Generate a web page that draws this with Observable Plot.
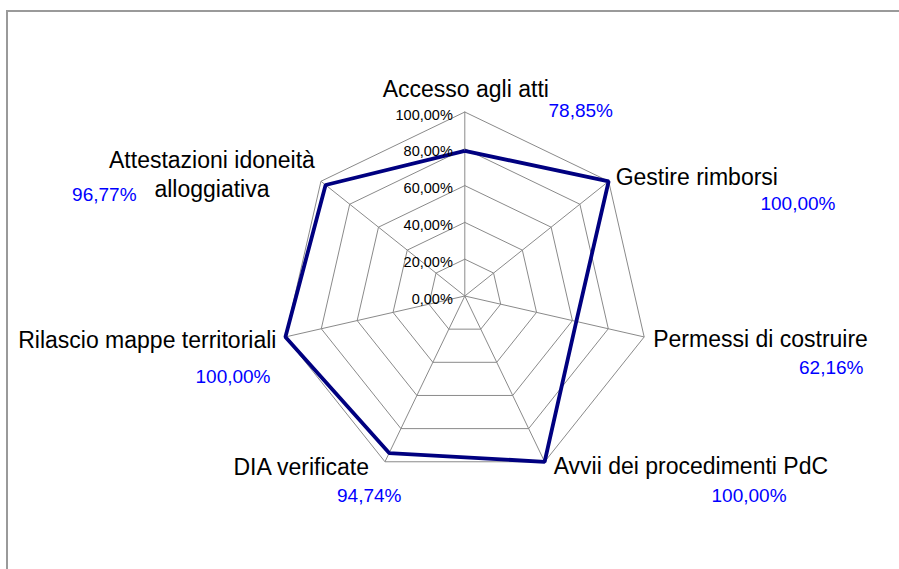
<!DOCTYPE html>
<html><head><meta charset="utf-8">
<script src="https://cdn.jsdelivr.net/npm/d3@7"></script>
<script src="https://cdn.jsdelivr.net/npm/@observablehq/plot@0.6"></script>
<style>
body{margin:0;background:#fff;}
#wrap{position:relative;width:899px;height:569px;overflow:hidden;background:#fff;}
#chart{position:absolute;left:0;top:0;}
#frame{position:absolute;left:6px;top:10px;width:1000px;height:1000px;border-top:2px solid #9a9a9a;border-left:2px solid #9a9a9a;pointer-events:none;}
</style></head><body>
<div id="wrap"><div id="chart"></div><div id="frame"></div></div>
<script>
// ---- data ----
const categories = ["Accesso agli atti","Gestire rimborsi","Permessi di costruire","Avvii dei procedimenti PdC","DIA verificate","Rilascio mappe territoriali","Attestazioni idoneità\nalloggiativa"];
const values = [78.85, 100, 62.16, 100, 94.74, 100, 96.77];
const valueLabels = ["78,85%","100,00%","62,16%","100,00%","94,74%","100,00%","96,77%"];
const gridLevels = [0, 20, 40, 60, 80, 100];
const tickLabels = ["0,00%","20,00%","40,00%","60,00%","80,00%","100,00%"];

// ---- layout (pixels) ----
const W = 899, H = 569, CX = 464.3, CY = 295.5, R = 184;
const catOffset = [[1,-15.5,"middle"],[7,4,"start"],[9,10,"start"],[9,12,"start"],[-16,13,"end"],[-9,11,"end"],[-109,16,"middle"]];
const valOffset = [[83.7,4.5,"start"],[226.8,29.2,"end"],[219.3,36.6,"end"],[241.9,40.7,"end"],[16.5,40.7,"end"],[-14.9,45.6,"end"],[-184.4,20.2,"end"]];

const n = categories.length;
const ang = i => 2 * Math.PI * i / n;
const px = (i, v) => v * Math.sin(ang(i));
const py = (i, v) => v * Math.cos(ang(i));

const rings = [];
gridLevels.filter(l => l > 0).forEach(l => {
  for (let k = 0; k <= n; k++) rings.push({level: l, x: px(k % n, l), y: py(k % n, l)});
});
const spokes = categories.map((c, i) => ({x2: px(i, 100), y2: py(i, 100)}));
const series = [];
for (let k = 0; k <= n; k++) series.push({x: px(k % n, values[k % n]), y: py(k % n, values[k % n])});

const font = "'Liberation Sans', Arial, sans-serif";
const marks = [
  Plot.line(rings, {x: "x", y: "y", z: "level", stroke: "#8a8a8a", strokeWidth: 1, strokeLinejoin: "miter"}),
  Plot.link(spokes, {x1: () => 0, y1: () => 0, x2: "x2", y2: "y2", stroke: "#8a8a8a", strokeWidth: 1}),
  Plot.line(series, {x: "x", y: "y", stroke: "#000080", strokeWidth: 3.8, strokeLinejoin: "miter", strokeLinecap: "butt"}),
  Plot.text(gridLevels, {x: () => 0, y: d => d, text: (d, i) => tickLabels[i], textAnchor: "end", lineAnchor: "middle", dx: -12, dy: 3, fontSize: 14.5, fill: "#000"})
];
categories.forEach((c, i) => {
  const [dx, dy, anchor] = catOffset[i];
  marks.push(Plot.text([c], {x: () => px(i, 100), y: () => py(i, 100), text: d => d, dx, dy, textAnchor: anchor, lineAnchor: "bottom", lineHeight: 1.26, fontSize: 23, fill: "#000"}));
  const [vx, vy, va] = valOffset[i];
  marks.push(Plot.text([valueLabels[i]], {x: () => px(i, 100), y: () => py(i, 100), text: d => d, dx: vx, dy: vy, textAnchor: va, lineAnchor: "bottom", fontSize: 19, fill: "#0000ff"}));
});

const chart = Plot.plot({
  width: W, height: H,
  marginTop: 0, marginRight: 0, marginBottom: 0, marginLeft: 0,
  x: {domain: [-CX / R * 100, (W - CX) / R * 100], range: [0, W], axis: null},
  y: {domain: [-(H - CY) / R * 100, CY / R * 100], range: [H, 0], axis: null},
  style: {fontFamily: font, background: "#fff", overflow: "visible"},
  marks
});
document.getElementById("chart").appendChild(chart);
</script>
</body></html>
